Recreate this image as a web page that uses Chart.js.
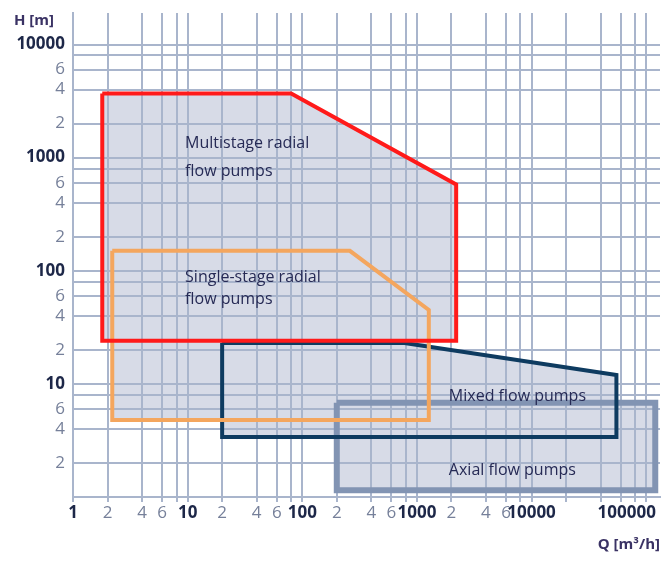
<!DOCTYPE html>
<html>
<head>
<meta charset="utf-8">
<script src="https://cdn.jsdelivr.net/npm/chart.js@4/dist/chart.umd.min.js"></script>
<style>
  html, body { margin: 0; padding: 0; background: #fff; }
  #wrap { width: 664px; height: 561px; }
</style>
</head>
<body>
<div id="wrap"><canvas id="pump_chart"></canvas></div>
<script>
"use strict"

// tick positions and labels
var qTicks = [1, 2, 4, 6, 8, 10, 20, 40, 60, 80, 100, 200, 400, 600, 800, 1000, 2000, 4000, 6000, 8000, 10000, 20000, 40000, 60000, 80000, 100000];
var qLabels = ["1", "2", "4", "6", "", "10", "2", "4", "6", "", "100", "2", "4", "6", "", "1000", "2", "4", "6", "", "10000", "", "", "", "", "100000\u2007\u2007\u2007\u2007"];
var hTicks = [1, 2, 4, 6, 8, 10, 20, 40, 60, 80, 100, 200, 400, 600, 800, 1000, 2000, 4000, 6000, 8000, 10000];
var hLabels = ["", "2", "4", "6", "", "10", "2", "4", "6", "", "100", "2", "4", "6", "", "1000", "2", "4", "6", "", "10000"];

// pump ranges (outline corners, Q in m3/h, H in m)
var multistageQ = [1.8, 80, 2200, 2200, 1.8, 1.8];
var multistageH = [3700, 3700, 580, 24, 24, 3700];
var singleStageQ = [2.2, 260, 1270, 1270, 2.2, 2.2];
var singleStageH = [150, 150, 45, 4.8, 4.8, 150];
var mixedQ = [20, 780, 55000, 55000, 20, 20];
var mixedH = [23, 23, 12, 3.4, 3.4, 23];
var axialQ = [200, 120000, 120000, 200, 200];
var axialH = [6.8, 6.8, 1.15, 1.15, 6.8];

// area captions
var captionText = ["Multistage radial", "flow pumps", "Single-stage radial", "flow pumps", "Mixed flow pumps", "Axial flow pumps"];
var captionQ = [9.5, 9.5, 9.5, 9.5, 1900, 1900];
var captionH = [1330, 760, 87, 56, 7.8, 1.73];

function toPoints(qs, hs) {
    return qs.map(function (q, i) { return {x: q, y: hs[i]}; });
}

var gridColor = "#a9b5cc";
var fillColor = "#d7dbe7";

function pumpArea(label, qs, hs, color, width) {
    return {
        label: label,
        data: toPoints(qs, hs),
        borderColor: color,
        borderWidth: width,
        backgroundColor: fillColor,
        fill: 'shape',
        tension: 0,
        pointRadius: 0,
        borderJoinStyle: 'miter',
        borderCapStyle: 'butt'
    };
}

function isDecade(v) {
    var l = Math.log10(v);
    return Math.abs(l - Math.round(l)) < 1e-9;
}

function tickColor(c) {
    return c.tick && isDecade(c.tick.value) ? "#1d2748" : "#76809a";
}

function tickFont(c) {
    return {family: "'Open Sans'", size: 17, weight: c.tick && isDecade(c.tick.value) ? 'bold' : 'normal'};
}

var textPlugin = {
    id: 'pumpText',
    afterDatasetsDraw: function (chart) {
        var ctx = chart.ctx;
        var xs = chart.scales.x, ys = chart.scales.y;
        ctx.save();
        ctx.fillStyle = "#262a55";
        ctx.font = "16px 'Open Sans'";
        ctx.textAlign = "left";
        ctx.textBaseline = "middle";
        captionText.forEach(function (t, i) {
            ctx.fillText(t, xs.getPixelForValue(captionQ[i]), ys.getPixelForValue(captionH[i]));
        });
        // axis titles
        ctx.fillStyle = "#3a3264";
        ctx.font = "bold 15px 'Open Sans'";
        ctx.textAlign = "left";
        ctx.fillText("H [m]", 14, 21);
        ctx.textAlign = "right";
        ctx.fillText("Q [m\u00b3/h]", 660, 545);
        ctx.restore();
    }
};

var chartCanvas = document.getElementById("pump_chart");
var pumpChart = new Chart(chartCanvas, {
    type: 'line',
    data: {
        datasets: [
            pumpArea("Multistage radial flow pumps", multistageQ, multistageH, "#ff1a1a", 4),
            pumpArea("Single-stage radial flow pumps", singleStageQ, singleStageH, "#f4a65e", 4),
            pumpArea("Mixed flow pumps", mixedQ, mixedH, "#0e3b60", 4),
            pumpArea("Axial flow pumps", axialQ, axialH, "#8294b3", 6)
        ]
    },
    plugins: [textPlugin],
    options: {
        responsive: true,
        maintainAspectRatio: false,
        animation: false,
        layout: { padding: { top: 13, right: 4, left: 0, bottom: 0 } },
        plugins: {
            legend: { display: false },
            tooltip: { enabled: false },
            filler: { drawTime: 'beforeDraw' }
        },
        scales: {
            x: {
                type: 'logarithmic',
                min: 1,
                max: 132000,
                afterBuildTicks: function (axis) {
                    axis.ticks = qTicks.map(function (v) { return {value: v}; });
                },
                afterFit: function (axis) {
                    axis.height = 64;
                    axis.paddingLeft = 0;
                    axis.paddingRight = 0;
                },
                grid: { color: gridColor, lineWidth: 2, tickLength: 5, drawTicks: true },
                border: { color: gridColor, width: 2 },
                ticks: {
                    autoSkip: false,
                    maxRotation: 0,
                    padding: 1,
                    callback: function (value, index) { return qLabels[index]; },
                    color: tickColor,
                    font: tickFont
                }
            },
            y: {
                type: 'logarithmic',
                min: 1,
                max: 19000,
                afterBuildTicks: function (axis) {
                    axis.ticks = hTicks.map(function (v) { return {value: v}; });
                },
                afterFit: function (axis) {
                    axis.width = 73;
                    axis.paddingTop = 0;
                    axis.paddingBottom = 0;
                },
                grid: { color: gridColor, lineWidth: 2, drawTicks: false },
                border: { color: gridColor, width: 2 },
                ticks: {
                    autoSkip: false,
                    padding: 8,
                    callback: function (value, index) { return hLabels[index]; },
                    color: tickColor,
                    font: tickFont
                }
            }
        }
    }
});
</script>
</body>
</html>
